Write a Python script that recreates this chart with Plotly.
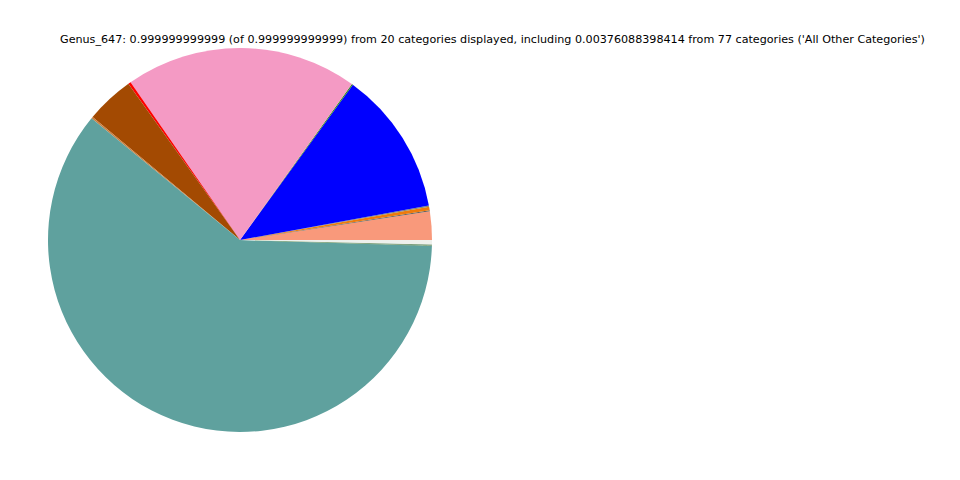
import plotly.graph_objects as go

categories = [
    "Category_1", "Category_2", "Category_3", "Category_4", "Category_5",
    "Category_6", "Category_7", "Category_8", "Category_9", "Category_10",
    "Category_11", "Category_12", "Category_13", "Category_14", "Category_15",
    "Category_16", "Category_17", "Category_18", "Category_19",
    "All Other Categories",
]
values = [
    0.0239, 0.0008, 0.0030, 0.0011, 0.1212,
    0.0010, 0.1955, 0.0022, 0.0406, 0.0014,
    0.6042, 0.0003, 0.0001, 0.0001, 0.0001,
    0.0001, 0.0001, 0.0001, 0.0003,
    0.00376088398414,
]
colors = [
    "#f9997b", "#5a5a5a", "#ee7a0c", "#8a8a6a", "#0000ff",
    "#2e8b22", "#f49ac4", "#ff0000", "#a34a02", "#cd7f3f",
    "#5fa19e", "#3c7a4a", "#708090", "#a0a0a0", "#b0c4b0",
    "#6b8e23", "#556b2f", "#8fbc8f", "#2e6b3a",
    "#eef0ec",
]
title_text = ("Genus_647: 0.999999999999 (of 0.999999999999) from 20 categories displayed, "
              "including 0.00376088398414 from 77 categories ('All Other Categories')")

# plotly places the first slice clockwise of `rotation` when counterclockwise;
# shift so the first slice starts at 3 o'clock like matplotlib
first_angle = 360.0 * values[0] / sum(values)

W, H = 960, 480
OFF = 8  # page body margin

fig = go.Figure(go.Pie(
    labels=categories,
    values=values,
    sort=False,
    direction="counterclockwise",
    rotation=90 - first_angle,
    textinfo="none",
    marker=dict(colors=colors, line=dict(width=0)),
    domain=dict(x=[(48 - OFF) / W, (432 - OFF) / W],
                y=[1 - (432 - OFF) / H, 1 - (48 - OFF) / H]),
    showlegend=False,
))

fig.add_annotation(
    text=title_text, x=(492 - OFF) / W, y=1 - (40 - OFF) / H, xref="paper", yref="paper",
    showarrow=False, xanchor="center", yanchor="middle",
    font=dict(family="DejaVu Sans", size=11.15, color="black"),
)

fig.update_layout(
    width=W, height=H,
    margin=dict(l=0, r=0, t=0, b=0),
    paper_bgcolor="white", plot_bgcolor="white",
)

fig.write_html("out.html")
